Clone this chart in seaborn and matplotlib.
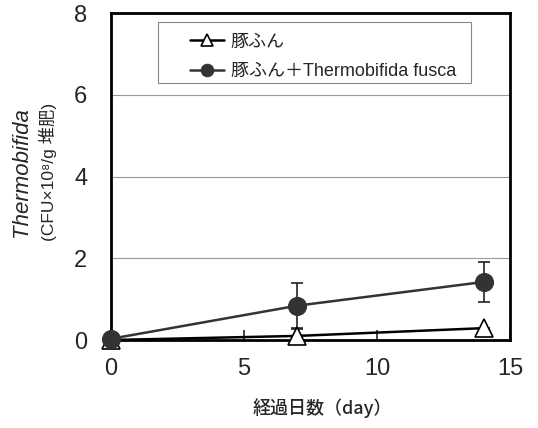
import matplotlib
matplotlib.use("Agg")
import matplotlib.pyplot as plt
import matplotlib.patches as mpatches
import seaborn as sns
import pandas as pd

days = [0, 7, 14]
pig = [0.0, 0.10, 0.29]
pig_err = [0.0, 0.20, 0.0]
pig_tf = [0.03, 0.84, 1.42]
pig_tf_err = [0.0, 0.56, 0.50]
labels = ["豚ふん", "豚ふん＋Thermobifida fusca"]
xticks = [0, 5, 10, 15]
yticks = [0, 2, 4, 6, 8]

sns.set_style("white")
FAM = ["Liberation Sans", "Noto Sans CJK JP", "DejaVu Sans"]
plt.rcParams["font.family"] = FAM

fig = plt.figure(figsize=(5.38, 4.28), dpi=100)
ax = fig.add_axes([0.2063, 0.2056, 0.7420, 0.7640])

df = pd.DataFrame({"day": days * 2,
                   "val": pig + pig_tf,
                   "grp": [labels[0]] * 3 + [labels[1]] * 3})

line_col = "#333333"
ax.errorbar(days, pig_tf, yerr=pig_tf_err, fmt="none", ecolor="#222222",
            elinewidth=1.2, capsize=4.5, capthick=1.2, zorder=3)
ax.errorbar(days, pig, yerr=pig_err, fmt="none", ecolor="#222222",
            elinewidth=1.2, capsize=4.5, capthick=1.2, zorder=3)
sns.lineplot(data=df[df.grp == labels[0]], x="day", y="val", ax=ax,
             color="black", lw=1.8, marker="^", markersize=13,
             markerfacecolor="white", markeredgecolor="black",
             markeredgewidth=1.2, label=labels[0], zorder=4, clip_on=False)
sns.lineplot(data=df[df.grp == labels[1]], x="day", y="val", ax=ax,
             color=line_col, lw=1.8, marker="o", markersize=13,
             markerfacecolor=line_col, markeredgecolor=line_col,
             label=labels[1], zorder=5, clip_on=False)

ax.set_xlim(0, 15)
ax.set_ylim(0, 8)
ax.set_xticks(xticks)
ax.set_yticks(yticks)
ax.set_xticklabels([str(t) for t in xticks], fontsize=17)
ax.set_yticklabels([str(t) for t in yticks], fontsize=17)
ax.tick_params(axis="x", direction="in", length=7, width=1.2, pad=13, bottom=True)
ax.tick_params(axis="y", length=0, pad=17)
for y in [2, 4, 6]:
    ax.axhline(y, color="#999999", lw=0.8, zorder=1)
for s in ax.spines.values():
    s.set_color("black")
    s.set_linewidth(2)
ax.set_xlabel("")
ax.set_ylabel("")

fig.text(322 / 538, 1 - 408 / 428, "経過日数（day）", ha="center",
         va="center", fontsize=13, weight=500,
         family=["Noto Sans CJK JP", "DejaVu Sans"])
fig.text(22 / 538, 1 - 172 / 428, "Thermobifida", rotation=90, ha="center",
         va="center", fontsize=16, style="italic")
fig.text(48 / 538, 1 - 172 / 428, "(CFU×10⁸/g 堆肥)", rotation=90, ha="center",
         va="center", fontsize=12.5)

# legend box
box = mpatches.Rectangle((0.118, 0.786), 0.784, 0.186, transform=ax.transAxes,
                         fill=True, facecolor="white", edgecolor="#888888",
                         lw=0.8, zorder=6)
ax.add_patch(box)
leg = ax.legend(loc="center left", bbox_to_anchor=(0.198, 0.866),
                frameon=False, handlelength=1.9, handletextpad=0.35,
                borderpad=0, labelspacing=0.7, borderaxespad=0,
                prop={"family": ["Liberation Sans", "Noto Sans CJK JP"], "size": 13})
leg.set_zorder(7)
for h in leg.legend_handles:
    h.set_markersize(9)

fig.savefig("out.png", dpi=100)
